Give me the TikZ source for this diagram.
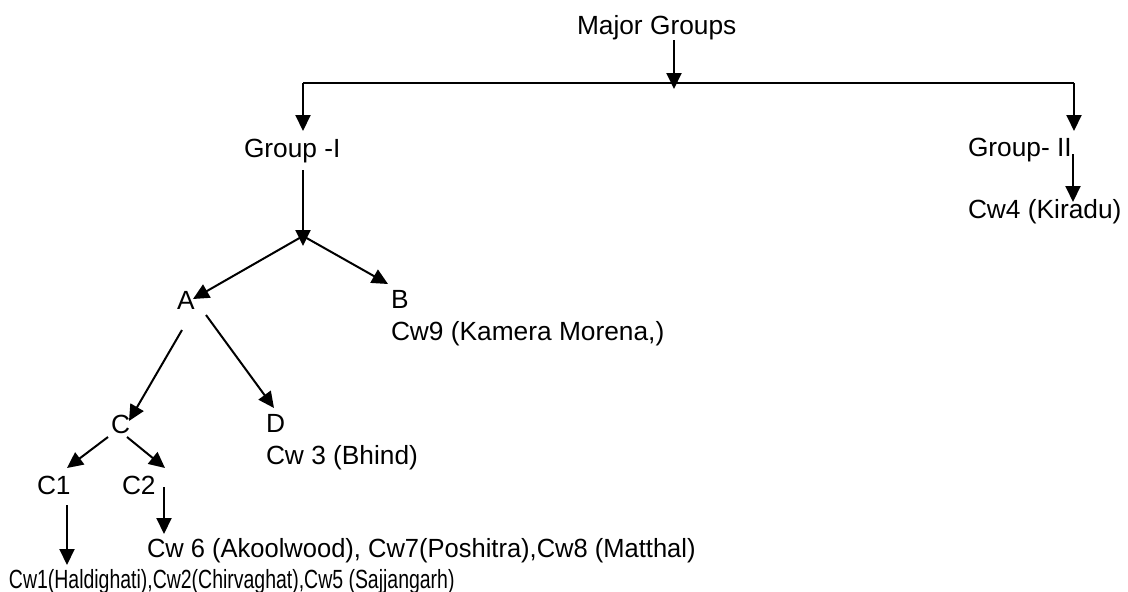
\documentclass[tikz,border=0pt]{standalone}
\usepackage{fontspec}
\setmainfont{Liberation Sans}
\usetikzlibrary{arrows.meta}
\begin{document}
\begin{tikzpicture}[x=1pt,y=-1pt,
  lbl/.style={anchor=base west,inner sep=0pt,outer sep=0pt,font=\fontsize{26.3}{31}\selectfont},
  conn/.style={line width=2pt},
  arr/.style={conn,-{Triangle[length=16pt,width=15pt]}}]
\useasboundingbox[fill=white] (0,0) rectangle (1128,592);
% texts
\node[lbl] (major) at (577,34) {Major Groups};
\node[lbl] (g1) at (244,157) {Group -I};
\node[lbl] (g2) at (968,156) {Group- II};
\node[lbl] (cw4) at (968,218) {Cw4 (Kiradu)};
\node[lbl] (A) at (177,309) {A};
\node[lbl] (B) at (391,308) {B};
\node[lbl] (cw9) at (391,340) {Cw9 (Kamera Morena,)};
\node[lbl] (C) at (111,433) {C};
\node[lbl] (D) at (266,432) {D};
\node[lbl] (cw3) at (266,464) {Cw 3 (Bhind)};
\node[lbl] (C1) at (37,494) {C1};
\node[lbl] (C2) at (122,494) {C2};
\node[lbl] (cw6) at (147,557) {\scalebox{0.97}[1]{Cw 6 (Akoolwood), Cw7(Poshitra),Cw8 (Matthal)}};
\node[lbl] (cw1) at (9,588) {\scalebox{0.74}[1]{Cw1(Haldighati),Cw2(Chirvaghat),Cw5 (Sajjangarh)}};
% junction coordinates
\coordinate (mtop) at (674,40);
\coordinate (mtip) at (674,89);
\coordinate (hl) at (303,83);
\coordinate (hr) at (1074,83);
\coordinate (g1tip) at (303,131);
\coordinate (g2tip) at (1074,131);
\coordinate (g1s) at (303,170);
\coordinate (g1tip2) at (303,246);
\coordinate (jn) at (303,236);
\coordinate (Atip) at (193,299);
\coordinate (Btip) at (388,284);
\coordinate (As1) at (182,330);
\coordinate (Ctip) at (129,421);
\coordinate (As2) at (206,315);
\coordinate (Dtip) at (274,408);
\coordinate (Cs1) at (108,437);
\coordinate (C1tip) at (67,468);
\coordinate (Cs2) at (127,437);
\coordinate (C2tip) at (165,468);
\coordinate (C1s) at (67,505);
\coordinate (C1tip2) at (67,565);
\coordinate (C2s) at (164,487);
\coordinate (C2tip2) at (164,534);
\coordinate (g2s) at (1073,154);
\coordinate (cw4tip) at (1073,202);
% connectors
\draw[arr] (mtop) -- (mtip);
\draw[conn] (hl) -- (hr);
\draw[arr] (hl) -- (g1tip);
\draw[arr] (hr) -- (g2tip);
\draw[arr] (g1s) -- (g1tip2);
\draw[arr] (jn) -- (Atip);
\draw[arr] (jn) -- (Btip);
\draw[arr] (As1) -- (Ctip);
\draw[arr] (As2) -- (Dtip);
\draw[arr] (Cs1) -- (C1tip);
\draw[arr] (Cs2) -- (C2tip);
\draw[arr] (C1s) -- (C1tip2);
\draw[arr] (C2s) -- (C2tip2);
\draw[arr] (g2s) -- (cw4tip);
\end{tikzpicture}
\end{document}
